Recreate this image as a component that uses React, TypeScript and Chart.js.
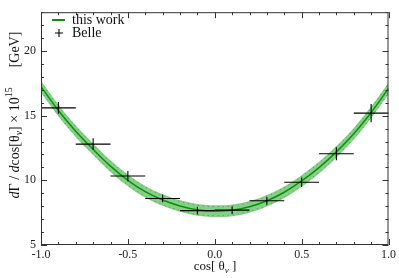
import React, { useEffect, useRef } from "react";
import { Chart, registerables } from "chart.js";

Chart.register(...registerables);

// Theory curve ("this work") sampled along cos(theta_nu)
const curveX = [-1.0, -0.9, -0.8, -0.7, -0.6, -0.5, -0.4, -0.3, -0.2, -0.1, 0.0, 0.1, 0.2, 0.3, 0.4, 0.5, 0.6, 0.7, 0.8, 0.9, 1.0];
const curveY = [17.25, 15.4, 13.8, 12.4, 11.1, 10.0, 9.12, 8.48, 8.02, 7.72, 7.62, 7.68, 7.95, 8.42, 9.08, 9.95, 10.98, 12.2, 13.6, 15.25, 17.1];
const bandUpper = [17.7, 15.85, 14.25, 12.85, 11.55, 10.45, 9.57, 8.93, 8.47, 8.17, 8.07, 8.13, 8.4, 8.87, 9.53, 10.4, 11.43, 12.65, 14.05, 15.7, 17.55];
const bandLower = [16.8, 14.95, 13.35, 11.95, 10.65, 9.55, 8.67, 8.03, 7.57, 7.27, 7.17, 7.23, 7.5, 7.97, 8.63, 9.5, 10.53, 11.75, 13.15, 14.8, 16.65];
const innerUpper = [17.6, 15.75, 14.15, 12.75, 11.45, 10.35, 9.47, 8.83, 8.37, 8.07, 7.97, 8.03, 8.3, 8.77, 9.43, 10.3, 11.33, 12.55, 13.95, 15.6, 17.45];
const innerLower = [16.9, 15.05, 13.45, 12.05, 10.75, 9.65, 8.77, 8.13, 7.67, 7.37, 7.27, 7.33, 7.6, 8.07, 8.73, 9.6, 10.63, 11.85, 13.25, 14.9, 16.75];

// Belle data
const belleX = [-0.9, -0.7, -0.5, -0.3, -0.1, 0.1, 0.3, 0.5, 0.7, 0.9];
const belleY = [15.6, 12.8, 10.33, 8.6, 7.66, 7.7, 8.42, 9.85, 12.05, 15.2];
const belleYErr = [0.45, 0.45, 0.4, 0.3, 0.3, 0.3, 0.3, 0.37, 0.5, 0.7];
const belleXErr = [0.1, 0.1, 0.1, 0.1, 0.1, 0.1, 0.1, 0.1, 0.1, 0.1];

// Axis ticks
const xMin = -1.0;
const xMax = 1.0;
const yMin = 5;
const yMax = 23;
const xStep = 0.5;
const yStep = 5;

const SERIF = "'Liberation Serif', 'DejaVu Serif', serif";
const GREEN = "#0b900b";

const toPts = (ys: number[]) => curveX.map((x, i) => ({ x, y: ys[i] }));

const errorBarPlugin = {
  id: "errorBars",
  afterDatasetsDraw(chart: any) {
    const ctx = chart.ctx;
    const xs = chart.scales.x;
    const ys = chart.scales.y;
    ctx.save();
    ctx.strokeStyle = "#000";
    ctx.lineWidth = 1.1;
    belleX.forEach((x, i) => {
      const px = xs.getPixelForValue(x);
      const py = ys.getPixelForValue(belleY[i]);
      const x0 = xs.getPixelForValue(x - belleXErr[i]);
      const x1 = xs.getPixelForValue(x + belleXErr[i]);
      const y0 = ys.getPixelForValue(belleY[i] - belleYErr[i]);
      const y1 = ys.getPixelForValue(belleY[i] + belleYErr[i]);
      ctx.beginPath();
      ctx.moveTo(x0, py);
      ctx.lineTo(x1, py);
      ctx.moveTo(px, y0);
      ctx.lineTo(px, y1);
      ctx.stroke();
    });
    ctx.restore();
  },
};

type Seg = { t: string; f: string; dy: number; gap?: number };

const framePlugin = {
  id: "frameAndText",
  afterDraw(chart: any) {
    const ctx = chart.ctx;
    const xs = chart.scales.x;
    const ys = chart.scales.y;
    const { left, right, top, bottom } = chart.chartArea;
    ctx.save();
    ctx.strokeStyle = "#333";
    ctx.lineWidth = 1;
    ctx.strokeRect(left + 0.5, top + 0.5, right - left - 1, bottom - top - 1);
    ctx.beginPath();
    for (let i = -10; i <= 10; i++) {
      const v = i / 10;
      const p = Math.round(xs.getPixelForValue(v)) + 0.5;
      const len = i % 5 === 0 ? 6 : 3;
      ctx.moveTo(p, bottom);
      ctx.lineTo(p, bottom - len);
      ctx.moveTo(p, top);
      ctx.lineTo(p, top + len);
    }
    for (let v = yMin; v <= yMax; v++) {
      const p = Math.round(ys.getPixelForValue(v)) + 0.5;
      const len = v % 5 === 0 ? 6 : 3;
      ctx.moveTo(left, p);
      ctx.lineTo(left + len, p);
      ctx.moveTo(right, p);
      ctx.lineTo(right - len, p);
    }
    ctx.stroke();

    // Legend
    ctx.strokeStyle = GREEN;
    ctx.lineWidth = 2;
    ctx.beginPath();
    ctx.moveTo(52, 20);
    ctx.lineTo(65, 20);
    ctx.stroke();
    ctx.strokeStyle = "#000";
    ctx.lineWidth = 1.1;
    ctx.beginPath();
    ctx.moveTo(55, 33);
    ctx.lineTo(63, 33);
    ctx.moveTo(59, 29);
    ctx.lineTo(59, 37);
    ctx.stroke();
    ctx.fillStyle = "#111";
    ctx.font = `14px ${SERIF}`;
    ctx.textBaseline = "middle";
    ctx.textAlign = "left";
    ctx.fillText("this work", 72, 20.5);
    ctx.fillText("Belle", 72, 33.5);

    const drawRich = (segs: Seg[], x: number, y: number, align: string) => {
      let total = 0;
      segs.forEach((s) => {
        ctx.font = s.f;
        total += ctx.measureText(s.t).width + (s.gap || 0);
      });
      let cx = align === "center" ? x - total / 2 : x;
      ctx.textAlign = "left";
      segs.forEach((s) => {
        cx += s.gap || 0;
        ctx.font = s.f;
        ctx.fillText(s.t, cx, y + s.dy);
        cx += ctx.measureText(s.t).width;
      });
    };
    ctx.textBaseline = "alphabetic";

    // X title: cos[ θ_ν ]
    drawRich(
      [
        { t: "cos[ θ", f: `13px ${SERIF}`, dy: 0 },
        { t: "ν", f: `italic 9px ${SERIF}`, dy: 3 },
        { t: " ]", f: `13px ${SERIF}`, dy: 0 },
      ],
      215,
      270,
      "center"
    );

    // Y title
    const nf = `14px ${SERIF}`;
    const itf = `italic 14px ${SERIF}`;
    ctx.save();
    ctx.translate(19, 115);
    ctx.rotate(-Math.PI / 2);
    drawRich(
      [
        { t: "d", f: itf, dy: 0 },
        { t: "Γ / ", f: nf, dy: 0 },
        { t: "d", f: itf, dy: 0 },
        { t: "cos[θ", f: nf, dy: 0 },
        { t: "ν", f: `italic 10px ${SERIF}`, dy: 3 },
        { t: "] × 10", f: nf, dy: 0 },
        { t: "15", f: `10px ${SERIF}`, dy: -7 },
        { t: "[GeV]", f: nf, dy: 0, gap: 20 },
      ],
      0,
      0,
      "center"
    );
    ctx.restore();
    ctx.restore();
  },
};

export default function App() {
  const ref = useRef<HTMLCanvasElement | null>(null);
  useEffect(() => {
    if (!ref.current) return;
    const chart = new Chart(ref.current, {
      type: "line",
      data: {
        datasets: [
          {
            label: "this work",
            data: toPts(curveY),
            borderWidth: 1.5,
            borderColor: GREEN,
            pointRadius: 0,
            fill: false,
            tension: 0.4,
            order: 0,
          },
          {
            label: "inner upper",
            data: toPts(innerUpper),
            borderWidth: 1,
            borderColor: "#3f9f3f",
            borderDash: [1, 4],
            pointRadius: 0,
            fill: false,
            tension: 0.4,
            order: 1,
          },
          {
            label: "inner lower",
            data: toPts(innerLower),
            borderWidth: 1,
            borderColor: "#3f9f3f",
            borderDash: [1, 4],
            pointRadius: 0,
            fill: false,
            tension: 0.4,
            order: 2,
          },
          {
            label: "band upper",
            data: toPts(bandUpper),
            borderWidth: 0,
            borderColor: "rgba(0,0,0,0)",
            pointRadius: 0,
            fill: "+1",
            backgroundColor: "#86cf86",
            tension: 0.4,
            order: 3,
          },
          {
            label: "band lower",
            data: toPts(bandLower),
            borderWidth: 0,
            borderColor: "rgba(0,0,0,0)",
            pointRadius: 0,
            fill: false,
            tension: 0.4,
            order: 4,
          },
          {
            label: "Belle",
            data: belleX.map((x, i) => ({ x, y: belleY[i] })),
            showLine: false,
            pointRadius: 0,
            order: 5,
          },
        ],
      },
      options: {
        responsive: false,
        animation: false,
        events: [],
        layout: { padding: { top: 1, right: 9, left: 0, bottom: 0 } },
        plugins: { legend: { display: false }, tooltip: { enabled: false } },
        scales: {
          x: {
            type: "linear",
            min: xMin,
            max: xMax,
            grid: { display: false, drawTicks: false },
            border: { display: false },
            ticks: {
              stepSize: xStep,
              includeBounds: false,
              maxRotation: 0,
              autoSkip: false,
              padding: 3,
              color: "#222",
              font: { family: SERIF, size: 12 },
              callback: (v: any) => Number(v).toFixed(1),
            },
            afterFit: (s: any) => {
              s.height = 33;
            },
          },
          y: {
            type: "linear",
            min: yMin,
            max: yMax,
            grid: { display: false, drawTicks: false },
            border: { display: false },
            ticks: {
              stepSize: yStep,
              includeBounds: false,
              padding: 5,
              color: "#222",
              font: { family: SERIF, size: 12 },
            },
            afterFit: (s: any) => {
              s.width = 41;
            },
          },
        },
      } as any,
      plugins: [errorBarPlugin, framePlugin],
    });
    return () => chart.destroy();
  }, []);
  return (
    <div style={{ position: "absolute", left: 0, top: 0, width: 399, height: 278, background: "#fff" }}>
      <canvas ref={ref} width={399} height={278} style={{ width: 399, height: 278 }} />
    </div>
  );
}
